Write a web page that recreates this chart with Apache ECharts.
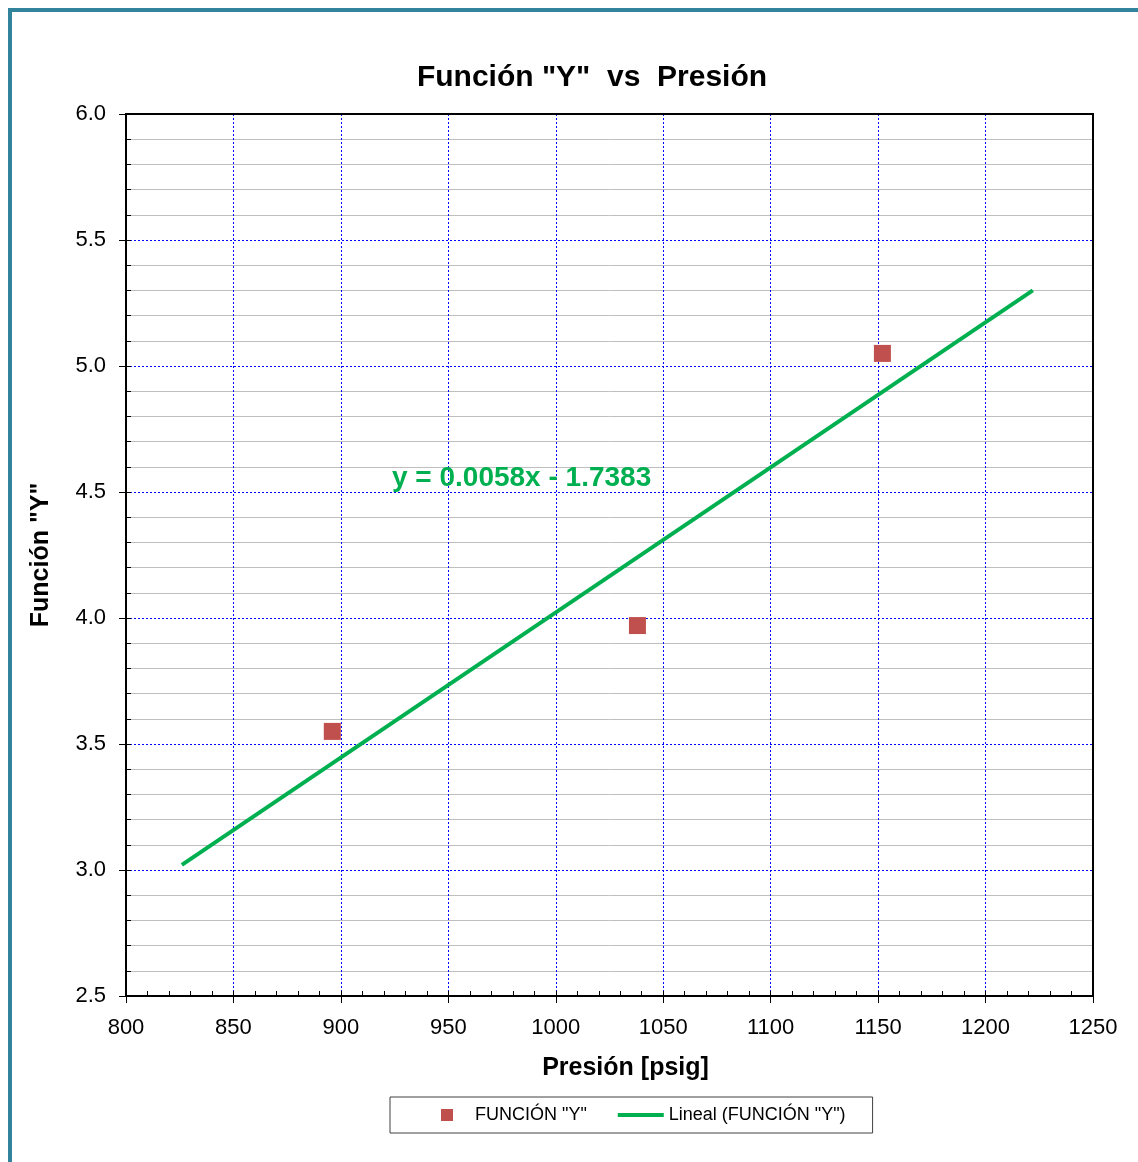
<!DOCTYPE html>
<html>
<head>
<meta charset="utf-8">
<script src="https://cdn.jsdelivr.net/npm/echarts@6/dist/echarts.min.js"></script>
<style>
  html, body { margin: 0; padding: 0; background: #fff; }
  #chart { width: 1138px; height: 1162px; }
</style>
</head>
<body>
<div id="chart"></div>
<script>
// measured points
const presion = [896, 1038, 1152];
const funcionY = [3.55, 3.97, 5.05];
// trend line ends
const trendX = [826, 1222];
const trendY = [3.02, 5.30];
const equation = "y = 0.0058x - 1.7383";

const font = "'Liberation Sans', Arial, sans-serif";
const blueGrid = { show: true, lineStyle: { color: "#0000ff", width: 1, type: [2, 2] } };
const frameLine = { show: true, lineStyle: { color: "#000", width: 2 } };

const chart = echarts.init(document.getElementById("chart"));

chart.setOption({
  animation: false,
  textStyle: { fontFamily: font },
  title: {
    text: 'Función "Y"  vs  Presión',
    left: 587,
    top: 58,
    textAlign: "center",
    textStyle: { fontSize: 30, fontWeight: "bold", color: "#000", fontFamily: font },
  },
  graphic: [
    {
      type: "rect",
      shape: { x: 10, y: 10, width: 1300, height: 1300 },
      style: { fill: "none", stroke: "#31849b", lineWidth: 4 },
      silent: true,
    },
    {
      type: "text",
      left: 392,
      top: 464,
      z: 10,
      style: { text: equation, fill: "#00b050", font: "bold 28px " + font },
    },
  ],
  grid: {
    left: 126, top: 114, width: 967, height: 882,
    show: true, borderColor: "#000", borderWidth: 2, backgroundColor: "#fff",
  },
  legend: {
    left: 390,
    top: 1097,
    padding: [9, 27, 9, 51],
    itemGap: 31,
    itemWidth: 46,
    itemHeight: 12,
    borderColor: "#404040",
    borderWidth: 1,
    textStyle: { fontSize: 18, color: "#000", fontFamily: font },
    data: [
      { name: 'FUNCIÓN "Y"', icon: "path://M0 0H10V10H0Z" },
      { name: 'Lineal (FUNCIÓN "Y")', icon: "path://M0 0H46V4H0Z" },
    ],
  },
  xAxis: [
    {
      type: "value", min: 800, max: 1250, interval: 50,
      name: "Presión [psig]", nameLocation: "middle", nameGap: 60,
      nameTextStyle: { fontSize: 25, fontWeight: "bold", color: "#000", fontFamily: font, padding: [0, 0, 0, 32] },
      axisLine: { lineStyle: { color: "#000", width: 2 } },
      axisTick: { show: true, length: 7, lineStyle: { color: "#000", width: 1 } },
      axisLabel: { fontSize: 22, color: "#000", margin: 21, formatter: v => String(v) },
      splitLine: blueGrid,
    },
    {
      type: "value", min: 800, max: 1250, interval: 10, position: "bottom",
      axisLine: { show: false },
      axisTick: { show: true, inside: true, length: 5, lineStyle: { color: "#000", width: 1 } },
      axisLabel: { show: false },
      splitLine: { show: false },
    },
    {
      type: "value", min: 800, max: 1250, position: "top", z: 5,
      axisLine: frameLine, axisTick: { show: false }, axisLabel: { show: false }, splitLine: { show: false },
    },
  ],
  yAxis: [
    {
      type: "value", min: 2.5, max: 6.0, interval: 0.5,
      name: 'Función "Y"', nameLocation: "middle", nameGap: 72,
      nameTextStyle: { fontSize: 25, fontWeight: "bold", color: "#000", fontFamily: font },
      axisLine: { lineStyle: { color: "#000", width: 2 } },
      axisTick: { show: true, length: 7, lineStyle: { color: "#000", width: 1 } },
      axisLabel: { fontSize: 22, color: "#000", margin: 20, formatter: v => v.toFixed(1) },
      splitLine: blueGrid,
      minorTick: { show: false, splitNumber: 5 },
      minorSplitLine: { show: true, lineStyle: { color: "#bfbfbf", width: 1 } },
    },
    {
      type: "value", min: 2.5, max: 6.0, interval: 0.1, position: "left",
      axisLine: { show: false },
      axisTick: { show: true, inside: true, length: 5, lineStyle: { color: "#000", width: 1 } },
      axisLabel: { show: false },
      splitLine: { show: false },
    },
    {
      type: "value", min: 2.5, max: 6.0, position: "right", z: 5,
      axisLine: frameLine, axisTick: { show: false }, axisLabel: { show: false }, splitLine: { show: false },
    },
  ],
  series: [
    {
      name: 'Lineal (FUNCIÓN "Y")',
      type: "line",
      data: trendX.map((x, i) => [x, trendY[i]]),
      showSymbol: false,
      symbol: "none",
      lineStyle: { color: "#00b050", width: 4 },
      itemStyle: { color: "#00b050" },
      z: 3,
    },
    {
      name: 'FUNCIÓN "Y"',
      type: "scatter",
      data: presion.map((x, i) => [x, funcionY[i]]),
      symbol: "rect",
      symbolSize: 17,
      symbolKeepAspect: true,
      itemStyle: { color: "#c0504d", opacity: 1 },
      z: 4,
    },
  ],
});
</script>
</body>
</html>
